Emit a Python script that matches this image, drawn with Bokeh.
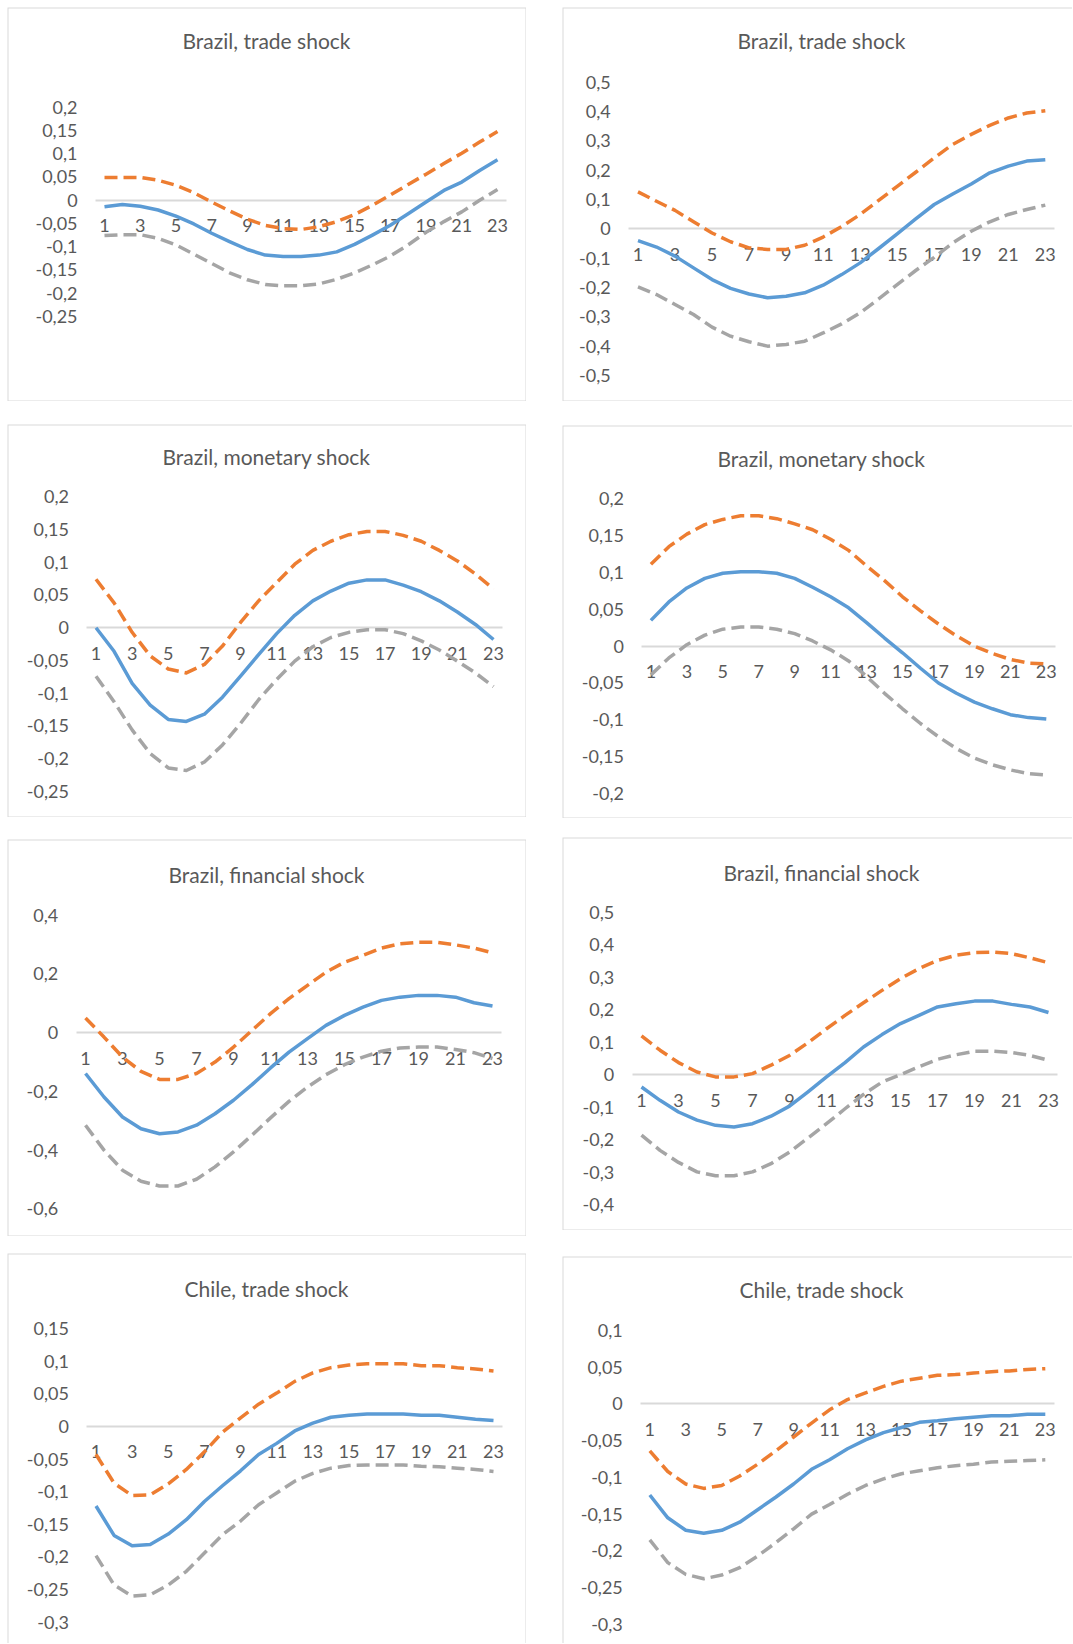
from bokeh.plotting import figure
from bokeh.layouts import row, column, Spacer
from bokeh.models import Range1d, FixedTicker, CustomJSTickFormatter, Label, BoxAnnotation
from bokeh.embed import file_html
from bokeh.resources import INLINE

# ---------------- data ----------------
periods = list(range(1, 24))
x_ticks = [1, 3, 5, 7, 9, 11, 13, 15, 17, 19, 21, 23]

titles = ["Brazil, trade shock", "Brazil, trade shock",
          "Brazil, monetary shock", "Brazil, monetary shock",
          "Brazil, financial shock", "Brazil, financial shock",
          "Chile, trade shock", "Chile, trade shock"]

# panel 1: Brazil, trade shock (left)
p1_mid = [-0.014, -0.009, -0.013, -0.021, -0.034, -0.051, -0.071, -0.089, -0.106, -0.118, -0.121, -0.121,
          -0.118, -0.111, -0.095, -0.075, -0.054, -0.029, -0.004, 0.021, 0.039, 0.064, 0.087]
p1_up = [0.049, 0.049, 0.049, 0.043, 0.032, 0.016, -0.004, -0.023, -0.041, -0.054, -0.061, -0.063,
         -0.057, -0.046, -0.031, -0.011, 0.011, 0.034, 0.056, 0.079, 0.101, 0.125, 0.148]
p1_lo = [-0.076, -0.074, -0.074, -0.082, -0.096, -0.116, -0.136, -0.156, -0.171, -0.181, -0.184, -0.184,
         -0.18, -0.17, -0.156, -0.139, -0.12, -0.096, -0.069, -0.046, -0.025, 0.0, 0.023]
p1_yticks = [-0.25, -0.2, -0.15, -0.1, -0.05, 0, 0.05, 0.1, 0.15, 0.2]

# panel 2: Brazil, trade shock (right)
p2_mid = [-0.04, -0.062, -0.093, -0.133, -0.173, -0.203, -0.222, -0.235, -0.23, -0.218, -0.192, -0.156,
          -0.116, -0.067, -0.017, 0.034, 0.083, 0.119, 0.153, 0.191, 0.214, 0.231, 0.236]
p2_up = [0.126, 0.094, 0.063, 0.024, -0.014, -0.044, -0.065, -0.07, -0.07, -0.056, -0.028, 0.008,
         0.049, 0.097, 0.145, 0.193, 0.242, 0.288, 0.322, 0.353, 0.378, 0.395, 0.403]
p2_lo = [-0.198, -0.224, -0.258, -0.292, -0.335, -0.366, -0.385, -0.4, -0.394, -0.383, -0.355, -0.324,
         -0.286, -0.239, -0.19, -0.142, -0.097, -0.048, -0.008, 0.024, 0.049, 0.066, 0.081]
p2_yticks = [-0.5, -0.4, -0.3, -0.2, -0.1, 0, 0.1, 0.2, 0.3, 0.4, 0.5]

# panel 3: Brazil, monetary shock (left)
p3_mid = [0.0, -0.036, -0.085, -0.118, -0.14, -0.143, -0.132, -0.106, -0.074, -0.041, -0.009, 0.019,
          0.041, 0.056, 0.068, 0.073, 0.073, 0.065, 0.055, 0.041, 0.024, 0.005, -0.018]
p3_up = [0.074, 0.038, -0.007, -0.043, -0.063, -0.069, -0.056, -0.028, 0.008, 0.041, 0.069, 0.097,
         0.118, 0.132, 0.142, 0.147, 0.147, 0.141, 0.132, 0.118, 0.102, 0.082, 0.059]
p3_lo = [-0.074, -0.113, -0.156, -0.192, -0.214, -0.218, -0.205, -0.179, -0.146, -0.11, -0.079, -0.051,
         -0.029, -0.015, -0.007, -0.003, -0.003, -0.009, -0.02, -0.034, -0.051, -0.069, -0.09]
p3_yticks = [-0.25, -0.2, -0.15, -0.1, -0.05, 0, 0.05, 0.1, 0.15, 0.2]

# panel 4: Brazil, monetary shock (right)
p4_mid = [0.035, 0.06, 0.079, 0.092, 0.099, 0.101, 0.101, 0.099, 0.092, 0.08, 0.067, 0.052,
          0.032, 0.011, -0.009, -0.03, -0.05, -0.064, -0.076, -0.085, -0.093, -0.097, -0.099]
p4_up = [0.111, 0.135, 0.152, 0.165, 0.172, 0.177, 0.177, 0.173, 0.166, 0.158, 0.145, 0.13,
         0.109, 0.089, 0.067, 0.048, 0.03, 0.014, 0.0, -0.01, -0.018, -0.023, -0.024]
p4_lo = [-0.039, -0.016, 0.002, 0.015, 0.023, 0.026, 0.026, 0.023, 0.017, 0.007, -0.005, -0.02,
         -0.041, -0.064, -0.085, -0.105, -0.123, -0.139, -0.152, -0.161, -0.168, -0.173, -0.175]
p4_yticks = [-0.2, -0.15, -0.1, -0.05, 0, 0.05, 0.1, 0.15, 0.2]

# panel 5: Brazil, financial shock (left)
p5_mid = [-0.139, -0.219, -0.287, -0.327, -0.344, -0.338, -0.315, -0.276, -0.23, -0.177, -0.12, -0.066,
          -0.02, 0.025, 0.059, 0.087, 0.11, 0.121, 0.127, 0.127, 0.121, 0.102, 0.091]
p5_up = [0.05, -0.015, -0.083, -0.132, -0.159, -0.159, -0.139, -0.1, -0.049, 0.008, 0.065, 0.116,
         0.161, 0.206, 0.24, 0.263, 0.288, 0.303, 0.308, 0.308, 0.299, 0.288, 0.272]
p5_lo = [-0.315, -0.4, -0.468, -0.506, -0.522, -0.522, -0.499, -0.457, -0.406, -0.349, -0.29, -0.234,
         -0.185, -0.143, -0.109, -0.083, -0.063, -0.052, -0.049, -0.049, -0.057, -0.068, -0.088]
p5_yticks = [-0.6, -0.4, -0.2, 0, 0.2, 0.4]

# panel 6: Brazil, financial shock (right)
p6_mid = [-0.038, -0.079, -0.115, -0.14, -0.156, -0.161, -0.151, -0.128, -0.097, -0.053, -0.007, 0.037,
          0.085, 0.123, 0.157, 0.182, 0.208, 0.218, 0.226, 0.226, 0.216, 0.208, 0.191]
p6_up = [0.119, 0.075, 0.037, 0.008, -0.007, -0.007, 0.003, 0.029, 0.059, 0.098, 0.141, 0.182,
         0.221, 0.259, 0.295, 0.326, 0.351, 0.367, 0.375, 0.377, 0.372, 0.359, 0.344]
p6_lo = [-0.186, -0.233, -0.27, -0.299, -0.311, -0.311, -0.299, -0.274, -0.238, -0.195, -0.151, -0.105,
         -0.061, -0.023, 0.0, 0.024, 0.047, 0.061, 0.072, 0.072, 0.068, 0.059, 0.044]
p6_yticks = [-0.4, -0.3, -0.2, -0.1, 0, 0.1, 0.2, 0.3, 0.4, 0.5]

# panel 7: Chile, trade shock (left)
p7_mid = [-0.122, -0.167, -0.183, -0.181, -0.165, -0.143, -0.115, -0.091, -0.068, -0.043, -0.026, -0.007,
          0.005, 0.014, 0.017, 0.019, 0.019, 0.019, 0.017, 0.017, 0.014, 0.011, 0.009]
p7_up = [-0.043, -0.087, -0.106, -0.105, -0.088, -0.066, -0.039, -0.009, 0.013, 0.034, 0.051, 0.069,
         0.082, 0.09, 0.094, 0.096, 0.096, 0.096, 0.093, 0.093, 0.09, 0.088, 0.085]
p7_lo = [-0.198, -0.243, -0.26, -0.258, -0.243, -0.222, -0.194, -0.166, -0.145, -0.12, -0.102, -0.084,
         -0.072, -0.064, -0.06, -0.059, -0.059, -0.059, -0.061, -0.062, -0.064, -0.066, -0.069]
p7_yticks = [-0.3, -0.25, -0.2, -0.15, -0.1, -0.05, 0, 0.05, 0.1, 0.15]

# panel 8: Chile, trade shock (right)
p8_mid = [-0.124, -0.155, -0.172, -0.176, -0.172, -0.161, -0.144, -0.127, -0.109, -0.089, -0.076, -0.061,
          -0.049, -0.039, -0.032, -0.025, -0.023, -0.02, -0.018, -0.016, -0.016, -0.014, -0.014]
p8_up = [-0.064, -0.092, -0.109, -0.115, -0.111, -0.098, -0.082, -0.064, -0.045, -0.026, -0.008, 0.006,
         0.015, 0.024, 0.031, 0.035, 0.039, 0.04, 0.042, 0.044, 0.045, 0.047, 0.048]
p8_lo = [-0.185, -0.216, -0.232, -0.238, -0.233, -0.223, -0.207, -0.189, -0.17, -0.15, -0.137, -0.123,
         -0.111, -0.102, -0.095, -0.091, -0.087, -0.084, -0.082, -0.079, -0.078, -0.077, -0.076]
p8_yticks = [-0.3, -0.25, -0.2, -0.15, -0.1, -0.05, 0, 0.05, 0.1]

series = [(p1_mid, p1_up, p1_lo, p1_yticks), (p2_mid, p2_up, p2_lo, p2_yticks),
          (p3_mid, p3_up, p3_lo, p3_yticks), (p4_mid, p4_up, p4_lo, p4_yticks),
          (p5_mid, p5_up, p5_lo, p5_yticks), (p6_mid, p6_up, p6_lo, p6_yticks),
          (p7_mid, p7_up, p7_lo, p7_yticks), (p8_mid, p8_up, p8_lo, p8_yticks)]

# ---------------- layout (page pixels, origin at page top-left) ----------------
# open_r / open_b: chart box continues past the window edge (no right / bottom border)
geom = [
    dict(fx=7, fy=7, w=519, h=394, x1=104, x23=497, vt=0.2, pt=106.7, vb=-0.25, pb=316, tx=266, ty=40,
         open_r=False, open_b=False),
    dict(fx=562, fy=7, w=510, h=394, x1=637.5, x23=1044.8, vt=0.5, pt=81.7, vb=-0.5, pb=375, tx=821, ty=40,
         open_r=True, open_b=False),
    dict(fx=7, fy=424, w=519, h=393, x1=95.5, x23=493, vt=0.2, pt=496.2, vb=-0.25, pb=791, tx=266, ty=456,
         open_r=False, open_b=False),
    dict(fx=562, fy=425, w=510, h=393, x1=650.4, x23=1045.8, vt=0.2, pt=498.3, vb=-0.2, pb=793, tx=821, ty=458,
         open_r=True, open_b=False),
    dict(fx=7, fy=839, w=519, h=397, x1=85, x23=492, vt=0.4, pt=914.7, vb=-0.6, pb=1208.4, tx=266, ty=874,
         open_r=False, open_b=False),
    dict(fx=562, fy=837, w=510, h=393, x1=641, x23=1048, vt=0.5, pt=911.5, vb=-0.4, pb=1204.2, tx=821, ty=872,
         open_r=True, open_b=False),
    dict(fx=7, fy=1253, w=519, h=390, x1=95.5, x23=493, vt=0.15, pt=1328, vb=-0.3, pb=1621.7, tx=266, ty=1288,
         open_r=False, open_b=True),
    dict(fx=562, fy=1256, w=510, h=387, x1=649.3, x23=1044.8, vt=0.1, pt=1330, vb=-0.3, pb=1623.8, tx=821,
         ty=1289, open_r=True, open_b=True),
]

BLUE, ORANGE, GRAY = "#5b9bd5", "#ed7d31", "#a5a5a5"
TXT = "#595959"
BORDER = "#d9d9d9"
FONT = "Lato"

fmt = CustomJSTickFormatter(code="return String(tick).replace('.', ',');")


def make_panel(i):
    g = geom[i]
    mid, up, lo, yt = series[i]
    n = len(periods)
    cw = (g["x23"] - g["x1"]) / (n - 1)
    xs = periods[0] - (g["x1"] - g["fx"]) / cw
    xe = xs + g["w"] / cw
    s = (g["pb"] - g["pt"]) / (g["vt"] - g["vb"])
    ye = g["vt"] + (g["pt"] - g["fy"]) / s
    ys = ye - g["h"] / s

    p = figure(width=g["w"], height=g["h"], x_range=Range1d(xs, xe), y_range=Range1d(ys, ye),
               output_backend="svg", toolbar_location=None, min_border=0,
               background_fill_color="white", border_fill_color="white")
    p.title.visible = False
    p.outline_line_color = None
    p.xgrid.visible = False
    p.ygrid.visible = False

    # chart-area border (Excel chart box); edges cut off by the window are pushed out of view
    pad_x = 20 / cw
    pad_y = 20 / s
    p.add_layout(BoxAnnotation(left=xs, right=(xe + pad_x) if g["open_r"] else xe,
                               bottom=(ys - pad_y) if g["open_b"] else ys, top=ye,
                               fill_color=None, fill_alpha=0, line_color=BORDER, line_alpha=1.0,
                               line_width=2, level="underlay"))

    lo_edge = periods[0] - 0.5
    hi_edge = periods[-1] + 0.5

    xa = p.xaxis[0]
    xa.fixed_location = 0
    xa.bounds = (lo_edge, hi_edge)
    xa.ticker = FixedTicker(ticks=x_ticks)
    xa.axis_line_color = BORDER
    xa.axis_line_width = 2
    xa.major_tick_line_color = None
    xa.minor_tick_line_color = None
    xa.major_tick_out = 0
    xa.major_tick_in = 0
    xa.major_label_standoff = 19
    xa.major_label_text_font = FONT
    xa.major_label_text_font_size = "18px"
    xa.major_label_text_color = TXT
    xa.level = "underlay"

    ya = p.yaxis[0]
    ya.fixed_location = lo_edge
    ya.ticker = FixedTicker(ticks=yt)
    ya.formatter = fmt
    ya.axis_line_color = None
    ya.major_tick_line_color = None
    ya.minor_tick_line_color = None
    ya.major_tick_out = 0
    ya.major_tick_in = 0
    ya.major_label_standoff = 18
    ya.major_label_text_font = FONT
    ya.major_label_text_font_size = "18px"
    ya.major_label_text_color = TXT

    p.line(periods, mid, line_color=BLUE, line_width=3.5, line_join="round")
    p.line(periods, up, line_color=ORANGE, line_width=3.5, line_dash="13 6", line_join="round")
    p.line(periods, lo, line_color=GRAY, line_width=3.5, line_dash="13 6", line_join="round")

    tx = xs + (g["tx"] - g["fx"]) / cw
    ty = ye - (g["ty"] - g["fy"]) / s
    p.add_layout(Label(x=tx, y=ty, text=titles[i], text_align="center", text_baseline="middle",
                       text_font=FONT, text_font_size="21px", text_color=TXT))
    return p


panels = [make_panel(i) for i in range(8)]
left_idx = [0, 2, 4, 6]
right_idx = [1, 3, 5, 7]


def stack(idx):
    items = [Spacer(width=1, height=geom[idx[0]]["fy"]), panels[idx[0]]]
    for a, b in zip(idx[:-1], idx[1:]):
        gap = geom[b]["fy"] - (geom[a]["fy"] + geom[a]["h"])
        items.append(Spacer(width=1, height=gap))
        items.append(panels[b])
    return column(*items, spacing=0)


gap_x = geom[1]["fx"] - (geom[0]["fx"] + geom[0]["w"])
layout = row(Spacer(width=geom[0]["fx"], height=1), stack(left_idx),
             Spacer(width=gap_x, height=1), stack(right_idx), spacing=0)

open("out.html", "w").write(file_html(layout, INLINE))
